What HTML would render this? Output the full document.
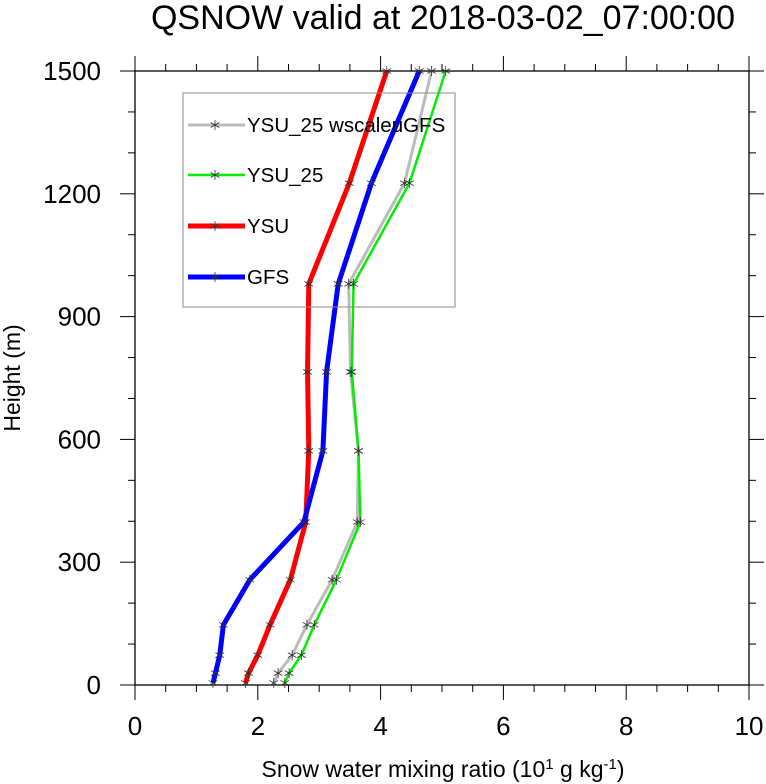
<!DOCTYPE html>
<html><head><meta charset="utf-8"><style>
body{margin:0;background:#fff;}
svg{display:block;font-family:"Liberation Sans",sans-serif;}
</style></head><body>
<svg id="chart" width="766" height="784" viewBox="0 0 766 784">
<text x="443" y="29" text-anchor="middle" font-size="34">QSNOW valid at 2018-03-02_07:00:00</text>
<g id="axes"></g>
<g id="series"></g>
<g id="legend"></g>
<text x="443" y="777" text-anchor="middle" font-size="23">Snow water mixing ratio (10<tspan dy="-8" font-size="15">1</tspan><tspan dy="8"> g kg</tspan><tspan dy="-8" font-size="15">-1</tspan><tspan dy="8">)</tspan></text>
<text transform="translate(20,378) rotate(-90)" text-anchor="middle" font-size="23">Height (m)</text>
</svg>
<script>
const heights=[5,29,73,147,257,398,572,765,980,1226,1500];
const seriesNames=["YSU_25 wscaleuGFS","YSU_25","YSU","GFS"];
const seriesColors=["#bbbbbb","#00ee00","#ff0000","#0000ff"];
const seriesWidths=[3,2.5,5,5];
const graySeries=[2.26,2.33,2.56,2.80,3.21,3.62,3.64,3.51,3.48,4.39,4.83];
const greenSeries=[2.44,2.51,2.71,2.92,3.28,3.67,3.64,3.53,3.56,4.47,5.06];
const redSeries=[1.80,1.85,2.00,2.20,2.53,2.78,2.83,2.81,2.83,3.49,4.10];
const blueSeries=[1.27,1.31,1.38,1.44,1.87,2.75,3.06,3.12,3.31,3.85,4.63];
const xTicks=[0,2,4,6,8,10];
const yTicks=[0,300,600,900,1200,1500];
const NS="http://www.w3.org/2000/svg";
const L=135,R=749,T=71,B=685;
const xs=v=>L+(v/10)*(R-L);
const ys=v=>B-(v/1500)*(B-T);
function mk(tag,attrs,parent){const e=document.createElementNS(NS,tag);for(const k in attrs)e.setAttribute(k,attrs[k]);parent.appendChild(e);return e;}
const axes=document.getElementById('axes');
const frame=mk('rect',{x:L,y:T,width:R-L,height:B-T,fill:'none',stroke:'#000','stroke-width':1.3},axes);


for(let v=0;v<=10.001;v+=0.5){const x=xs(v);const maj=Math.abs(v%2)<0.01;const len=maj?15:7;
 const t1=mk('line',{x1:x,x2:x,y1:B,y2:B+len,stroke:'#000','stroke-width':1},axes);
 
 
 const t2=mk('line',{x1:x,x2:x,y1:T,y2:T-len,stroke:'#000','stroke-width':1},axes);
 
 }
for(let v=0;v<=1500;v+=100){const y=ys(v);const maj=v%300===0;const len=maj?15:7;
 const t1=mk('line',{x1:L,x2:L-len,y1:y,y2:y,stroke:'#000','stroke-width':1},axes);
 
 
 const t2=mk('line',{x1:R,x2:R+len,y1:y,y2:y,stroke:'#000','stroke-width':1},axes);
 
 }
xTicks.forEach(v=>{const t=mk('text',{x:xs(v),y:B+50,'text-anchor':'middle','font-size':26},axes);t.textContent=v;
 
 });
yTicks.forEach(v=>{const t=mk('text',{x:L-34,y:ys(v)+9,'text-anchor':'end','font-size':26},axes);t.textContent=v;
 
 });
function star(g,x,y){const s=5;[[0,s],[s*0.87,s*0.5],[s*0.87,-s*0.5]].forEach(([dx,dy])=>{mk('line',{x1:x-dx,y1:y-dy,x2:x+dx,y2:y+dy,stroke:'#333','stroke-width':0.8},g);});}
const sg=document.getElementById('series');
const allSeries=[graySeries,greenSeries,redSeries,blueSeries];
const keys=['gray','green','red','blue'];
allSeries.forEach((data,i)=>{const g=mk('g',{},sg);
 
 
 const pts=data.map((v,j)=>xs(v)+','+ys(heights[j])).join(' ');
 mk('polyline',{points:pts,fill:'none',stroke:seriesColors[i],'stroke-width':seriesWidths[i],'stroke-linejoin':'round'},g);
 data.forEach((v,j)=>star(g,xs(v),ys(heights[j])));});
const lg=document.getElementById('legend');
const box=mk('rect',{x:183,y:93,width:272,height:214,fill:'none',stroke:'#888','stroke-width':1},lg);


const ly=[125,175,226,277];
seriesNames.forEach((n,i)=>{const g=mk('g',{},lg);
 
 
 mk('line',{x1:188,x2:245,y1:ly[i],y2:ly[i],stroke:seriesColors[i],'stroke-width':seriesWidths[i]},g);
 star(g,215,ly[i]);
 const t=mk('text',{x:247,y:ly[i]+7,'font-size':20.5},g);t.textContent=n;});
</script>
</body></html>
